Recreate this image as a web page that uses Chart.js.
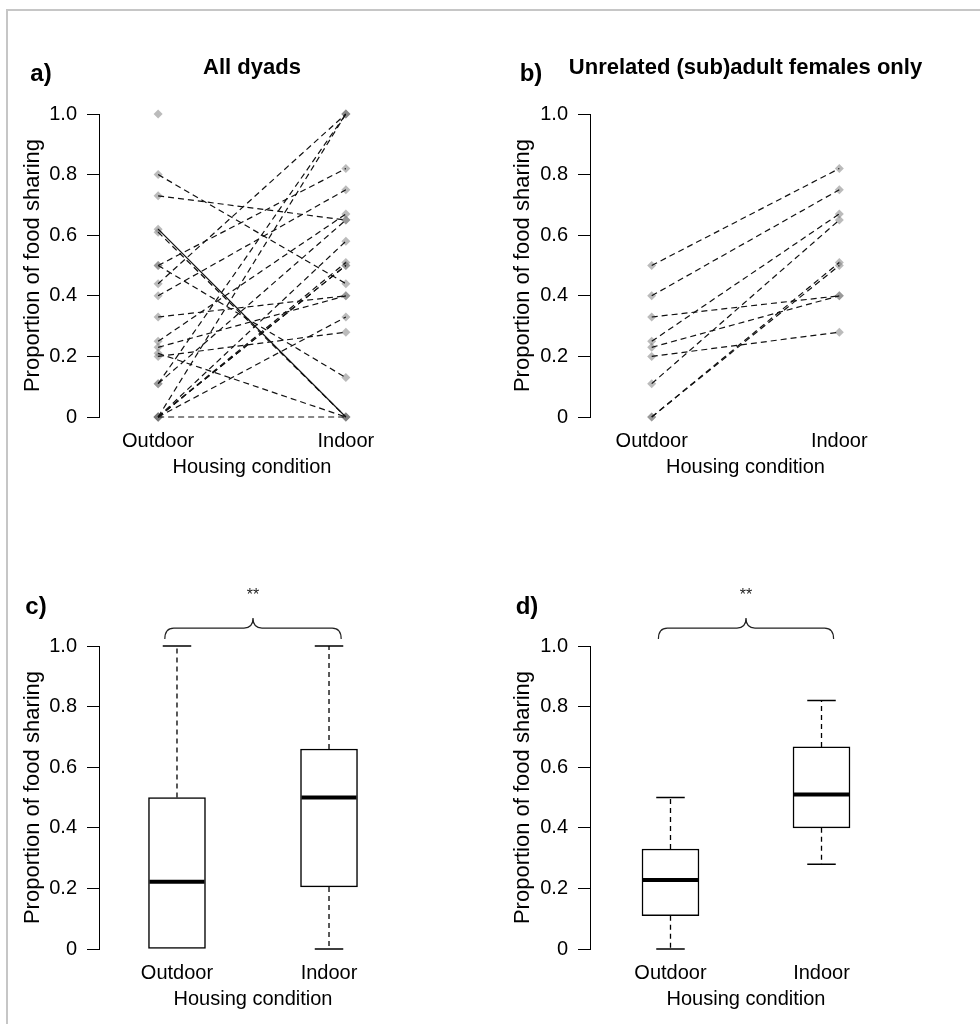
<!DOCTYPE html>
<html>
<head>
<meta charset="utf-8">
<script src="https://cdn.jsdelivr.net/npm/chart.js@4.4.1/dist/chart.umd.min.js"></script>
<style>
  body { margin: 0; background: #fff; }
  #wrap { position: relative; width: 980px; height: 1024px; overflow: hidden; }
  #frame { position: absolute; left: 6px; top: 9px; width: 1100px; height: 1100px;
           border-top: 2px solid #c6c6c6; border-left: 2px solid #c6c6c6; }
  canvas { position: absolute; }
</style>
</head>
<body>
<div id="wrap">
  <div id="frame"></div>
  <canvas id="pa" width="490" height="512" style="left:0;top:0"></canvas>
  <canvas id="pb" width="490" height="512" style="left:490px;top:0"></canvas>
  <canvas id="pc" width="490" height="512" style="left:0;top:512px"></canvas>
  <canvas id="pd" width="490" height="512" style="left:490px;top:512px"></canvas>
</div>
<script>
// categories and axis ticks
const conditions = ['Outdoor', 'Indoor'];
const yTicks = [0, 0.2, 0.4, 0.6, 0.8, 1.0];
const yTickLabels = ['0', '0.2', '0.4', '0.6', '0.8', '1.0'];

// a) all dyads: proportion of food sharing, outdoor vs indoor (null = no indoor value)
const allOutdoor = [0.50, 0.40, 0.33, 0.25, 0.23, 0.20, 0.11, 0, 0,
                    0.80, 0.73, 0.62, 0.61, 0.21, 0, 0.44, 0.50, 0.11, 0, 0, 0, 0, 1.0];
const allIndoor  = [0.82, 0.75, 0.40, 0.67, 0.40, 0.28, 0.65, 0.51, 0.50,
                    0.44, 0.65, 0, 0, 0, 0, 1.0, 0.13, 1.0, 1.0, 0.58, 0.50, 0.33, null];

// b) unrelated (sub)adult females only
const femOutdoor = [0.50, 0.40, 0.33, 0.25, 0.23, 0.20, 0.11, 0, 0];
const femIndoor  = [0.82, 0.75, 0.40, 0.67, 0.40, 0.28, 0.65, 0.51, 0.50];

// c) box stats, all dyads [Outdoor, Indoor]
const allMin = [0, 0];
const allQ1  = [0, 0.205];
const allMed = [0.222, 0.50];
const allQ3  = [0.50, 0.66];
const allMax = [1.0, 1.0];

// d) box stats, unrelated females [Outdoor, Indoor]
const femMin = [0, 0.28];
const femQ1  = [0.11, 0.40];
const femMed = [0.228, 0.51];
const femQ3  = [0.33, 0.667];
const femMax = [0.50, 0.82];

const FONT = '"Liberation Sans", Arial, sans-serif';
const solidDyad = 11;   // the one dyad drawn with a solid line in a)

function scalesFor(p) {
  return {
    x: {
      type: 'linear', min: p.xMin, max: p.xMax, offset: false,
      grid: { display: false, drawTicks: false },
      border: { display: false },
      afterBuildTicks: s => { s.ticks = conditions.map((c, i) => ({ value: i + 1 })); },
      afterFit: s => { s.height = 62; },
      ticks: { padding: p.labelPad, color: '#000', maxRotation: 0, autoSkip: false,
               font: { family: FONT, size: 20 }, callback: (v, i) => conditions[i] },
      title: { display: true, text: 'Housing condition', color: '#000',
               font: { family: FONT, size: 20 }, padding: 0 }
    },
    y: {
      min: 0, max: 1,
      grid: { drawOnChartArea: false, color: '#000', tickLength: 12, tickWidth: 1 },
      border: { display: true, color: '#000', width: 1 },
      afterBuildTicks: s => { s.ticks = yTicks.map(v => ({ value: v })); },
      afterFit: s => { s.width = p.axisX; },
      ticks: { padding: 10, color: '#000', font: { family: FONT, size: 20 },
               callback: (v, i) => yTickLabels[i] },
      title: { display: true, text: 'Proportion of food sharing', color: '#000',
               font: { family: FONT, size: 22 }, padding: { top: 20, bottom: 0 } }
    }
  };
}

// panel letter and heading
const panelTitles = {
  id: 'panelTitles',
  afterDraw(chart, args, o) {
    const ctx = chart.ctx, a = chart.chartArea;
    ctx.save();
    ctx.fillStyle = '#000';
    ctx.textAlign = 'center';
    ctx.textBaseline = 'middle';
    ctx.font = 'bold 24px ' + FONT;
    ctx.fillText(o.tag, o.tagX, o.tagY);
    if (o.text) {
      ctx.font = 'bold 22px ' + FONT;
      ctx.fillText(o.text, (a.left + a.right) / 2, o.textY);
    }
    ctx.restore();
  }
};

// whiskers, medians and the significance brace for the box panels
const boxExtras = {
  id: 'boxExtras',
  afterDatasetsDraw(chart, args, o) {
    const { ctx, scales: { x, y } } = chart;
    const half = o.boxPx / 2, cap = o.boxPx / 4;
    ctx.save();
    ctx.strokeStyle = '#000';
    o.med.forEach((m, i) => {
      const cx = x.getPixelForValue(i + 1);
      ctx.lineWidth = 1.3;
      ctx.setLineDash([5, 4]);
      ctx.beginPath();
      if (o.max[i] > o.q3[i]) { ctx.moveTo(cx, y.getPixelForValue(o.q3[i])); ctx.lineTo(cx, y.getPixelForValue(o.max[i])); }
      if (o.min[i] < o.q1[i]) { ctx.moveTo(cx, y.getPixelForValue(o.q1[i])); ctx.lineTo(cx, y.getPixelForValue(o.min[i])); }
      ctx.stroke();
      ctx.setLineDash([]);
      ctx.lineWidth = 1.5;
      ctx.beginPath();
      if (o.max[i] > o.q3[i]) {
        const py = y.getPixelForValue(o.max[i]);
        ctx.moveTo(cx - cap, py); ctx.lineTo(cx + cap, py);
      }
      if (o.min[i] < o.q1[i]) {
        const py = y.getPixelForValue(o.min[i]);
        ctx.moveTo(cx - cap, py); ctx.lineTo(cx + cap, py);
      }
      ctx.stroke();
      ctx.lineWidth = 4;
      ctx.beginPath();
      const my = y.getPixelForValue(m);
      ctx.moveTo(cx - half + 1, my); ctx.lineTo(cx + half - 1, my);
      ctx.stroke();
    });

    // brace between the two groups
    const L = x.getPixelForValue(0.92), R = x.getPixelForValue(2.08), C = x.getPixelForValue(1.5);
    const yE = y.getPixelForValue(1.023), yM = y.getPixelForValue(1.059), yT = y.getPixelForValue(1.092);
    const r = 9;
    ctx.strokeStyle = '#222';
    ctx.lineWidth = 1.2;
    ctx.beginPath();
    ctx.moveTo(L, yE);
    ctx.quadraticCurveTo(L, yM, L + r, yM);
    ctx.lineTo(C - r, yM);
    ctx.quadraticCurveTo(C, yM, C, yT);
    ctx.quadraticCurveTo(C, yM, C + r, yM);
    ctx.lineTo(R - r, yM);
    ctx.quadraticCurveTo(R, yM, R, yE);
    ctx.stroke();
    ctx.fillStyle = '#222';
    ctx.font = '16px ' + FONT;
    ctx.textAlign = 'center';
    ctx.textBaseline = 'middle';
    ctx.fillText('**', C, y.getPixelForValue(1.165));
    ctx.restore();
  }
};

function pairedChart(id, outdoor, indoor, p) {
  const pts = [];
  outdoor.forEach(v => pts.push({ x: 1, y: v }));
  indoor.forEach(v => { if (v !== null) pts.push({ x: 2, y: v }); });
  const lines = outdoor.map((v, i) => ({
    type: 'line',
    data: indoor[i] === null ? [] : [{ x: 1, y: v }, { x: 2, y: indoor[i] }],
    borderColor: '#111', borderWidth: 1.2,
    borderDash: (p.solid === i) ? [] : [6, 4],
    pointRadius: 0, fill: false, clip: false, order: 1
  }));
  return new Chart(document.getElementById(id), {
    type: 'line',
    data: {
      datasets: [{
        type: 'scatter', data: pts, showLine: false, clip: false, order: 2,
        pointStyle: 'rectRot', pointRadius: 4.5, pointBorderWidth: 0,
        pointBackgroundColor: 'rgba(120,120,120,0.5)'
      }].concat(lines)
    },
    options: {
      responsive: false, animation: false, events: [],
      layout: { padding: p.pad },
      scales: scalesFor(p),
      plugins: { legend: { display: false }, tooltip: { enabled: false }, panelTitles: p.titles }
    },
    plugins: [panelTitles]
  });
}

function boxChart(id, mn, q1, md, q3, mx, p) {
  return new Chart(document.getElementById(id), {
    type: 'bar',
    data: {
      datasets: [{
        data: conditions.map((c, i) => ({ x: i + 1, y: [q1[i], q3[i]] })),
        backgroundColor: '#fff', borderColor: '#000', borderWidth: 1.5,
        borderSkipped: false, barThickness: p.boxPx
      }]
    },
    options: {
      responsive: false, animation: false, events: [],
      layout: { padding: p.pad },
      scales: scalesFor(p),
      plugins: {
        legend: { display: false }, tooltip: { enabled: false },
        panelTitles: p.titles,
        boxExtras: { boxPx: p.boxPx, min: mn, q1: q1, med: md, q3: q3, max: mx }
      }
    },
    plugins: [panelTitles, boxExtras]
  });
}

pairedChart('pa', allOutdoor, allIndoor, {
  xMin: 0.685, xMax: 2.315, axisX: 99, labelPad: 12, solid: solidDyad,
  pad: { left: 0, top: 114, right: 85, bottom: 33 },
  titles: { tag: 'a)', tagX: 41, tagY: 74, text: 'All dyads', textY: 68 }
});

pairedChart('pb', femOutdoor, femIndoor, {
  xMin: 0.671, xMax: 2.329, axisX: 100, labelPad: 12, solid: -1,
  pad: { left: 0, top: 114, right: 79, bottom: 33 },
  titles: { tag: 'b)', tagX: 41, tagY: 74, text: 'Unrelated (sub)adult females only', textY: 68 }
});

boxChart('pc', allMin, allQ1, allMed, allQ3, allMax, {
  xMin: 0.487, xMax: 2.513, axisX: 99, labelPad: 12, boxPx: 57,
  pad: { left: 0, top: 134, right: 83, bottom: 13 },
  titles: { tag: 'c)', tagX: 36, tagY: 95 }
});

boxChart('pd', femMin, femQ1, femMed, femQ3, femMax, {
  xMin: 0.467, xMax: 2.533, axisX: 100, labelPad: 12, boxPx: 57,
  pad: { left: 0, top: 134, right: 78, bottom: 13 },
  titles: { tag: 'd)', tagX: 37, tagY: 95 }
});
</script>
</body>
</html>
